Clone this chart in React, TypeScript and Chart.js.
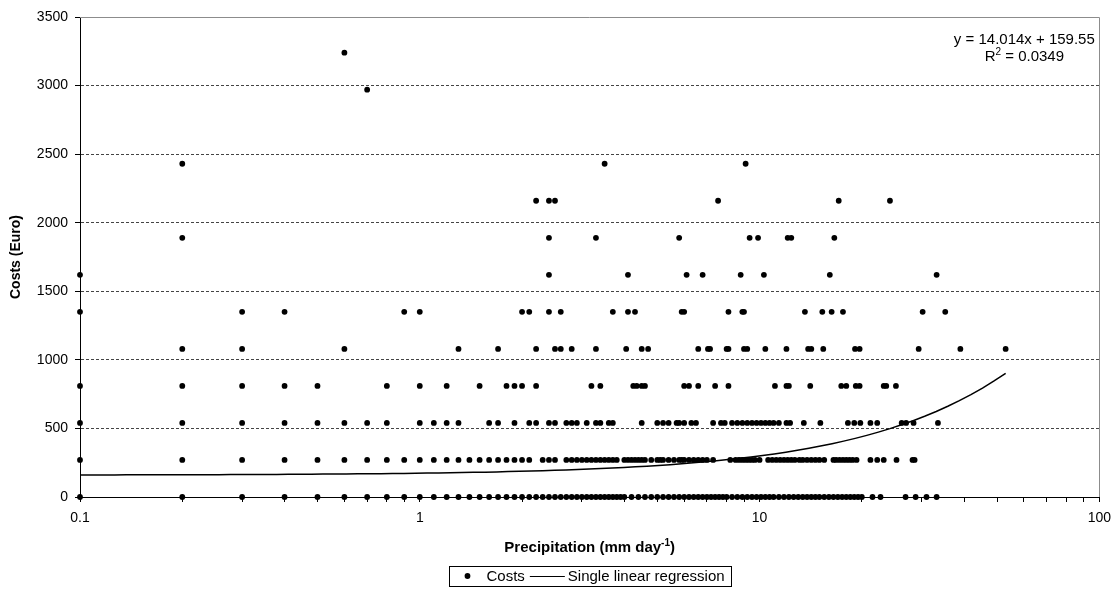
import React, { useEffect, useRef } from "react";
import { Chart, registerables } from "chart.js";

Chart.register(...registerables);

// ---- Data ----
const COST_LEVELS = [0, 270, 540, 810, 1080, 1350, 1620, 1890, 2160, 2430, 2970, 3240];

const PRECIP_COST_0 = [0.1, 0.2, 0.3, 0.4, 0.5, 0.6, 0.7, 0.8, 0.9, 1.0, 1.1, 1.2, 1.3, 1.4, 1.5, 1.6, 1.7, 1.8, 1.9, 2.0, 2.1, 2.2, 2.3, 2.4, 2.5, 2.6, 2.7, 2.8, 2.9, 3.0, 3.1, 3.2, 3.3, 3.4, 3.5, 3.6, 3.7, 3.8, 3.9, 4.0, 4.2, 4.4, 4.6, 4.8, 5.0, 5.2, 5.4, 5.6, 5.8, 6.0, 6.2, 6.4, 6.6, 6.8, 7.0, 7.2, 7.4, 7.6, 7.8, 8.0, 8.3, 8.6, 8.9, 9.2, 9.5, 9.8, 10.1, 10.4, 10.7, 11.0, 11.4, 11.8, 12.2, 12.6, 13.0, 13.4, 13.8, 14.2, 14.6, 15.0, 15.5, 16.0, 16.5, 17.0, 17.5, 18.0, 18.5, 19.0, 19.5, 20.0, 21.5, 22.7, 26.9, 28.8, 31.0, 33.2];
const PRECIP_COST_270 = [0.1, 0.2, 0.3, 0.4, 0.5, 0.6, 0.7, 0.8, 0.9, 1.0, 1.1, 1.2, 1.3, 1.4, 1.5, 1.6, 1.7, 1.8, 1.9, 2.0, 2.1, 2.3, 2.4, 2.5, 2.7, 2.8, 2.9, 3.0, 3.1, 3.2, 3.3, 3.4, 3.5, 3.6, 3.7, 3.8, 4.0, 4.1, 4.2, 4.3, 4.4, 4.5, 4.6, 4.8, 5.0, 5.1, 5.2, 5.4, 5.6, 5.8, 5.9, 6.0, 6.2, 6.4, 6.6, 6.8, 7.0, 7.3, 8.2, 8.5, 8.7, 8.9, 9.1, 9.3, 9.5, 9.7, 10.0, 10.6, 10.9, 11.2, 11.5, 11.8, 12.1, 12.4, 12.7, 13.1, 13.4, 13.8, 14.2, 14.6, 15.0, 15.5, 16.5, 16.8, 17.2, 17.6, 18.0, 18.4, 18.8, 19.3, 21.2, 22.2, 23.2, 25.3, 28.2, 28.6];
const PRECIP_COST_540 = [0.1, 0.2, 0.3, 0.4, 0.5, 0.6, 0.7, 0.8, 1.0, 1.1, 1.2, 1.3, 1.6, 1.7, 1.9, 2.1, 2.2, 2.4, 2.5, 2.7, 2.8, 2.9, 3.1, 3.3, 3.4, 3.6, 3.7, 4.5, 5.0, 5.2, 5.4, 5.7, 5.8, 6.0, 6.3, 6.5, 7.3, 7.7, 7.9, 8.3, 8.6, 8.9, 9.2, 9.5, 9.8, 10.1, 10.4, 10.7, 11.0, 11.4, 12.0, 12.3, 13.5, 15.1, 18.2, 19.0, 19.8, 21.2, 22.2, 26.2, 27.0, 28.4, 33.5];
const PRECIP_COST_810 = [0.1, 0.2, 0.3, 0.4, 0.5, 0.8, 1.0, 1.2, 1.5, 1.8, 1.9, 2.0, 2.2, 3.2, 3.4, 4.25, 4.35, 4.5, 4.6, 6.0, 6.2, 6.6, 7.4, 8.1, 11.1, 12.0, 12.2, 14.1, 17.4, 18.0, 19.2, 19.7, 23.2, 23.6, 25.2];
const PRECIP_COST_1080 = [0.2, 0.3, 0.6, 1.3, 1.7, 2.2, 2.5, 2.6, 2.8, 3.3, 4.05, 4.5, 4.7, 6.6, 7.05, 7.15, 8.0, 8.1, 9.0, 9.2, 10.4, 12.0, 13.9, 14.2, 15.4, 19.1, 19.7, 29.4, 39.0, 53.0];
const PRECIP_COST_1350 = [0.1, 0.3, 0.4, 0.9, 1.0, 2.0, 2.1, 2.4, 2.6, 3.7, 4.1, 4.3, 5.9, 6.0, 8.1, 8.9, 9.0, 13.6, 15.3, 16.3, 17.6, 30.2, 35.2];
const PRECIP_COST_1620 = [0.1, 2.4, 4.1, 6.1, 6.8, 8.8, 10.3, 16.1, 33.2];
const PRECIP_COST_1890 = [0.2, 2.4, 3.3, 5.8, 9.35, 9.9, 12.1, 12.4, 16.6];
const PRECIP_COST_2160 = [2.2, 2.4, 2.5, 7.55, 17.1, 24.2];
const PRECIP_COST_2430 = [0.2, 3.5, 9.1];
const PRECIP_COST_2970 = [0.7];
const PRECIP_COST_3240 = [0.6];

const PRECIP_BY_LEVEL = [
  PRECIP_COST_0, PRECIP_COST_270, PRECIP_COST_540, PRECIP_COST_810,
  PRECIP_COST_1080, PRECIP_COST_1350, PRECIP_COST_1620, PRECIP_COST_1890,
  PRECIP_COST_2160, PRECIP_COST_2430, PRECIP_COST_2970, PRECIP_COST_3240,
];

// Regression shown on the chart
const REG_SLOPE = 14.014;
const REG_INTERCEPT = 159.55;
const REG_R2 = "0.0349";
const REG_X_MIN = 0.1;
const REG_X_MAX = 53;
const REG_SAMPLES = 80;

// Axes
const X_MAJOR_TICKS = [0.1, 1, 10, 100];
const X_TICK_LABELS = ["0.1", "1", "10", "100"];
const X_MINOR_TICKS = [0.2, 0.3, 0.4, 0.5, 0.6, 0.7, 0.8, 0.9, 2, 3, 4, 5, 6, 7, 8, 9, 20, 30, 40, 50, 60, 70, 80, 90];
const Y_TICKS = [0, 500, 1000, 1500, 2000, 2500, 3000, 3500];
const Y_TICK_LABELS = ["0", "500", "1000", "1500", "2000", "2500", "3000", "3500"];

const SERIES_LABELS = ["Costs", "Single linear regression"];
const X_TITLE = "Precipitation (mm day";
const X_TITLE_SUP = "-1";
const Y_TITLE = "Costs (Euro)";

const FONT = "'Liberation Sans', Arial, Helvetica, sans-serif";

const framePlugin = {
  id: "frame",
  beforeDatasetsDraw(chart: any) {
    const { ctx, chartArea: a } = chart;
    ctx.save();
    ctx.strokeStyle = "#8c8c8c";
    ctx.lineWidth = 1;
    ctx.setLineDash([]);
    ctx.beginPath();
    ctx.moveTo(a.left, Math.round(a.top) + 0.5);
    ctx.lineTo(Math.round(a.right) + 0.5, Math.round(a.top) + 0.5);
    ctx.lineTo(Math.round(a.right) + 0.5, a.bottom);
    ctx.stroke();
    ctx.restore();
  },
};

const textPlugin = {
  id: "texts",
  afterDraw(chart: any) {
    const { ctx, chartArea: a } = chart;
    ctx.save();
    ctx.fillStyle = "#000";
    ctx.textBaseline = "middle";
    ctx.textAlign = "left";

    // Regression equation
    ctx.font = `15px ${FONT}`;
    const eq = `y = ${REG_SLOPE}x + ${REG_INTERCEPT}`;
    const eqCx = a.right - 75;
    const w1 = ctx.measureText(eq).width;
    ctx.fillText(eq, eqCx - w1 / 2, a.top + 23);
    const rA = "R";
    const rB = ` = ${REG_R2}`;
    const wA = ctx.measureText(rA).width;
    const wB = ctx.measureText(rB).width;
    ctx.font = `10px ${FONT}`;
    const wS = ctx.measureText("2").width;
    const tot = wA + wS + wB;
    const x0 = eqCx - tot / 2;
    ctx.font = `15px ${FONT}`;
    ctx.fillText(rA, x0, a.top + 40);
    ctx.font = `10px ${FONT}`;
    ctx.fillText("2", x0 + wA, a.top + 35);
    ctx.font = `15px ${FONT}`;
    ctx.fillText(rB, x0 + wA + wS, a.top + 40);

    // X axis title
    const cx = (a.left + a.right) / 2;
    const ty = a.bottom + 51;
    ctx.font = `bold 15px ${FONT}`;
    const tA = ctx.measureText(X_TITLE).width;
    const tC = ctx.measureText(")").width;
    ctx.font = `bold 10px ${FONT}`;
    const tB = ctx.measureText(X_TITLE_SUP).width;
    const tx = cx - (tA + tB + tC) / 2;
    ctx.font = `bold 15px ${FONT}`;
    ctx.fillText(X_TITLE, tx, ty);
    ctx.font = `bold 10px ${FONT}`;
    ctx.fillText(X_TITLE_SUP, tx + tA, ty - 5);
    ctx.font = `bold 15px ${FONT}`;
    ctx.fillText(")", tx + tA + tB, ty);

    // Legend
    ctx.font = `15px ${FONT}`;
    const l1 = chart.data.datasets[0].label;
    const l2 = chart.data.datasets[1].label;
    const lw1 = ctx.measureText(l1).width;
    const lw2 = ctx.measureText(l2).width;
    const W = 37 + lw1 + 5 + 35 + 3 + lw2 + 7;
    const ly = chart.height - 19;
    const bx = Math.round(cx - W / 2) + 0.5;
    ctx.strokeStyle = "#000";
    ctx.lineWidth = 1;
    ctx.strokeRect(bx, Math.round(ly - 10) + 0.5, Math.round(W), 20);
    ctx.beginPath();
    ctx.arc(bx + 18, ly, 2.9, 0, Math.PI * 2);
    ctx.fill();
    ctx.fillText(l1, bx + 37, ly + 1);
    const lx = bx + 37 + lw1 + 5;
    ctx.beginPath();
    ctx.moveTo(lx, Math.round(ly) + 0.5);
    ctx.lineTo(lx + 35, Math.round(ly) + 0.5);
    ctx.stroke();
    ctx.fillText(l2, lx + 38, ly + 1);
    ctx.restore();
  },
};

export default function App() {
  const canvasRef = useRef<HTMLCanvasElement | null>(null);

  useEffect(() => {
    document.body.style.margin = "0";
    const canvas = canvasRef.current;
    if (!canvas) return;

    const points = COST_LEVELS.flatMap((cost, i) =>
      PRECIP_BY_LEVEL[i].map((p) => ({ x: p, y: cost }))
    );
    const regPoints: { x: number; y: number }[] = [];
    for (let i = 0; i <= REG_SAMPLES; i++) {
      const x = REG_X_MIN * Math.pow(REG_X_MAX / REG_X_MIN, i / REG_SAMPLES);
      regPoints.push({ x, y: REG_SLOPE * x + REG_INTERCEPT });
    }

    const chart = new Chart(canvas, {
      type: "scatter",
      data: {
        datasets: [
          {
            label: SERIES_LABELS[0],
            data: points,
            pointRadius: 2.9,
            pointHoverRadius: 2.9,
            pointBackgroundColor: "#000",
            pointBorderWidth: 0,
            borderColor: "#000",
            showLine: false,
            clip: 6,
          },
          {
            label: SERIES_LABELS[1],
            data: regPoints,
            showLine: true,
            borderColor: "#000",
            borderWidth: 1.5,
            pointRadius: 0,
            pointHoverRadius: 0,
            fill: false,
            tension: 0,
          },
        ],
      },
      options: {
        animation: false,
        responsive: false,
        events: [],
        layout: { padding: { top: 17, right: 18, bottom: 0, left: 0 } },
        plugins: {
          legend: { display: false },
          tooltip: { enabled: false },
        },
        scales: {
          x: {
            type: "logarithmic",
            min: 0.1,
            max: 100,
            afterBuildTicks: (s: any) => {
              s.ticks = [...X_MAJOR_TICKS, ...X_MINOR_TICKS]
                .sort((a, b) => a - b)
                .map((v) => ({ value: v }));
            },
            afterFit: (s: any) => {
              s.height = 98;
            },
            ticks: {
              autoSkip: false,
              maxRotation: 0,
              padding: 8,
              color: "#000",
              font: { size: 14, family: FONT },
              callback: (v: any) => {
                const i = X_MAJOR_TICKS.findIndex((t) => Math.abs(t - Number(v)) < 1e-9);
                return i >= 0 ? X_TICK_LABELS[i] : "";
              },
            },
            grid: {
              display: true,
              drawOnChartArea: false,
              drawTicks: true,
              tickLength: 5,
              tickColor: "#000",
              color: "#000",
            },
            border: { display: true, color: "#000", width: 1 },
          },
          y: {
            type: "linear",
            min: 0,
            max: 3500,
            afterBuildTicks: (s: any) => {
              s.ticks = Y_TICKS.map((v) => ({ value: v }));
            },
            afterFit: (s: any) => {
              s.width = 80;
            },
            ticks: {
              padding: 7,
              color: "#000",
              font: { size: 14, family: FONT },
              callback: (v: any) => {
                const i = Y_TICKS.indexOf(Number(v));
                return i >= 0 ? Y_TICK_LABELS[i] : String(v);
              },
            },
            grid: {
              color: (c: any) =>
                c.tick && (c.tick.value === 0 || c.tick.value === 3500) ? "rgba(0,0,0,0)" : "#444",
              tickColor: "#000",
              tickLength: 5,
              lineWidth: 1,
            },
            border: { display: true, color: "#000", width: 1, dash: [3, 2] },
            title: {
              display: true,
              text: Y_TITLE,
              color: "#000",
              font: { size: 14, weight: "bold", family: FONT },
              padding: { top: 8, bottom: 0 },
            },
          },
        },
      },
      plugins: [framePlugin, textPlugin],
    } as any);

    return () => chart.destroy();
  }, []);

  return (
    <div style={{ width: 1119, height: 595, position: "relative" }}>
      <canvas ref={canvasRef} width={1119} height={595} style={{ display: "block" }} />
    </div>
  );
}
